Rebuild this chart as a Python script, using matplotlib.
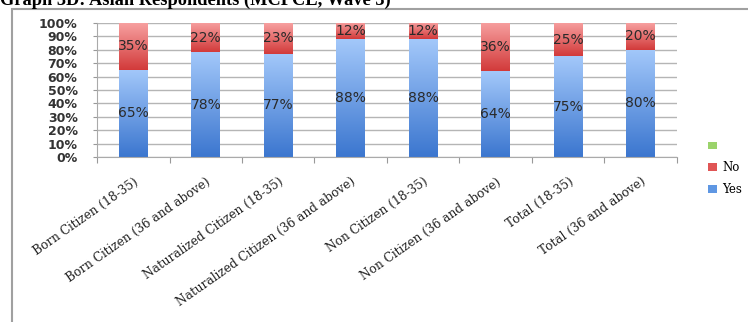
import numpy as np
import matplotlib
matplotlib.use("Agg")
import matplotlib.pyplot as plt
from matplotlib.colors import LinearSegmentedColormap
from matplotlib.patches import Rectangle

# data
categories = ["Born Citizen (18-35)", "Born Citizen (36 and above)",
              "Naturalized Citizen (18-35)", "Naturalized Citizen (36 and above)",
              "Non Citizen (18-35)", "Non Citizen (36 and above)",
              "Total (18-35)", "Total (36 and above)"]
yes_vals = [65, 78, 77, 88, 88, 64, 75, 80]
no_vals = [35, 22, 23, 12, 12, 36, 25, 20]
title = "Graph 3D: Asian Respondents (MCPCL, Wave 3)"

fig = plt.figure(figsize=(7.48, 3.22), dpi=100)
ax = fig.add_axes([0.1297, 0.5124, 0.7753, 0.4162])

x = np.arange(len(categories))
w = 0.4

# empty third series only shows up in the legend (green)
ax.bar(x, [0] * len(x), w, color="#9bd36b", label=" ")
no_bars = ax.bar(x, no_vals, w, bottom=yes_vals, color="#e05555", label="No")
yes_bars = ax.bar(x, yes_vals, w, color="#5f97e3", label="Yes")

blue_cm = LinearSegmentedColormap.from_list("b", ["#3b76cf", "#a3c8fa"])
red_cm = LinearSegmentedColormap.from_list("r", ["#d23a3a", "#f7a0a0"])
grad = np.linspace(0, 1, 256).reshape(-1, 1)

# gradient fill on top of each bar
for bars, cm in [(yes_bars, blue_cm), (no_bars, red_cm)]:
    for b in bars:
        x0, y0 = b.get_x(), b.get_y()
        ax.imshow(grad, cmap=cm, origin="lower", aspect="auto", zorder=2.5,
                  extent=[x0, x0 + b.get_width(), y0, y0 + b.get_height()])

# value labels in the middle of each segment
for i in range(len(x)):
    ax.text(x[i], yes_vals[i] / 2, f"{yes_vals[i]}%", ha="center", va="center",
            fontsize=10, color="#2a2a2a", zorder=4)
    ax.text(x[i], yes_vals[i] + no_vals[i] / 2, f"{no_vals[i]}%", ha="center",
            va="center", fontsize=10, color="#2a2a2a", zorder=4)

ax.set_xlim(-0.5, len(x) - 0.5)
ax.set_ylim(0, 100)
ax.set_yticks(range(0, 101, 10))
ax.set_yticklabels([f"{v}%" for v in range(0, 101, 10)], fontsize=9,
                   fontweight="bold", color="#333333")
ax.yaxis.grid(True, color="#b5b5b5", linewidth=1)
ax.set_axisbelow(True)
ax.tick_params(axis="y", length=3, color="#999999", pad=11)

ax.set_xticks(np.arange(-0.5, len(x), 1))
ax.set_xticklabels([])
ax.set_xticks(x, minor=True)
ax.set_xticklabels(categories, minor=True, rotation=35, ha="right",
                   rotation_mode="anchor", family="DejaVu Serif", fontsize=8.7,
                   color="#222222")
ax.tick_params(axis="x", which="major", length=4, color="#999999")
ax.tick_params(axis="x", which="minor", length=0, pad=13)

for s in ["top", "right"]:
    ax.spines[s].set_visible(False)
for s in ["left", "bottom"]:
    ax.spines[s].set_color("#aaaaaa")

handles, labels = ax.get_legend_handles_labels()
fig.legend(handles, labels, loc="upper left", bbox_to_anchor=(0.932, 0.6),
           frameon=False, handlelength=0.8, handleheight=0.6, handletextpad=0.4,
           labelspacing=0.75, prop={"family": "DejaVu Serif", "size": 8.5})

# outer frame of the pasted chart
fig.patches.append(Rectangle((12 / 748, -0.05), 1.1, 1 - 9 / 322 + 0.05,
                             transform=fig.transFigure, fill=False,
                             edgecolor="#a0a0a0", linewidth=1.5))

# title, clipped at the top like in the screenshot
fig.text(0.0, 1 - 5 / 322, title, ha="left", va="baseline",
         family="Liberation Serif", fontweight="bold", fontsize=13.2)

fig.savefig("out.png", dpi=100)
